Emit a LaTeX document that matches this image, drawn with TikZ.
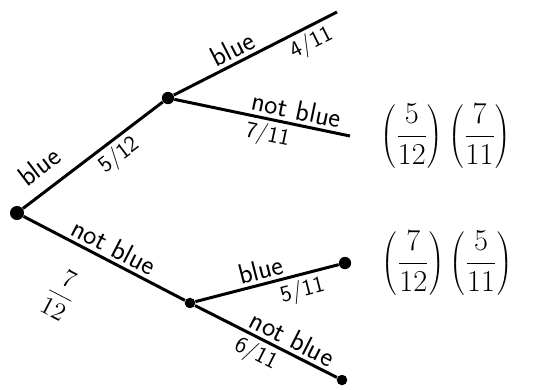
\documentclass[tikz,border=0pt]{standalone}
\usetikzlibrary{positioning}

\begin{document}
\begin{tikzpicture}[
    branch/.style={line width=1.7pt},
    knot/.style={circle, fill=black, inner sep=0pt, minimum size=#1},
    knot/.default=8pt,
    word/.style={font=\sffamily\fontsize{16}{16}\selectfont, sloped, inner sep=2pt},
    ratio/.style={font=\sffamily\fontsize{13}{13}\selectfont, sloped, inner sep=2pt},
    prod/.style={font=\fontsize{16}{16}\selectfont, inner sep=0pt}]
  \useasboundingbox (0,0) rectangle (10.74,-7.78);

  % first draw
  \node[knot=8pt] (root) at (0.34,-4.26) {};
  \node[knot=7pt] (up) at (3.36,-1.96) {};
  \node[knot=6pt] (down) at (3.80,-6.06) {};

  % second draw
  \coordinate (upblue) at (6.74,-0.24);
  \coordinate (upnot) at (7.00,-2.72);
  \node[knot=7pt] (downblue) at (6.90,-5.26) {};
  \node[knot=6pt] (downnot) at (6.84,-7.60) {};

  \draw[branch] (root) -- node[word, above=5pt, pos=0.22] {blue}
                          node[ratio, below, pos=0.62] {5/12} (up);
  \draw[branch] (root) -- node[word, above, pos=0.52] {not blue}
                          node[ratio, below=12pt, pos=0.38]
                            {\fontsize{15}{15}\selectfont$\displaystyle\frac{7}{12}$} (down);

  \draw[branch] (up) -- node[word, above, pos=0.4] {blue}
                        node[ratio, below, pos=0.8] {4/11} (upblue);
  \draw[branch] (up) -- node[word, above, pos=0.68] {not blue}
                        node[ratio, below, pos=0.55] {7/11} (upnot);

  \draw[branch] (down) -- node[word, above, pos=0.48] {blue}
                          node[ratio, below, pos=0.72] {5/11} (downblue);
  \draw[branch] (down) -- node[word, above, pos=0.64] {not blue}
                          node[ratio, below, pos=0.48] {6/11} (downnot);

  % products
  \node[prod, right=0.6cm of upnot] (produp)
    {$\displaystyle\left(\frac{5}{12}\right)\left(\frac{7}{11}\right)$};
  \node[prod, right=0.6cm of downblue] (proddown)
    {$\displaystyle\left(\frac{7}{12}\right)\left(\frac{5}{11}\right)$};
\end{tikzpicture}
\end{document}
